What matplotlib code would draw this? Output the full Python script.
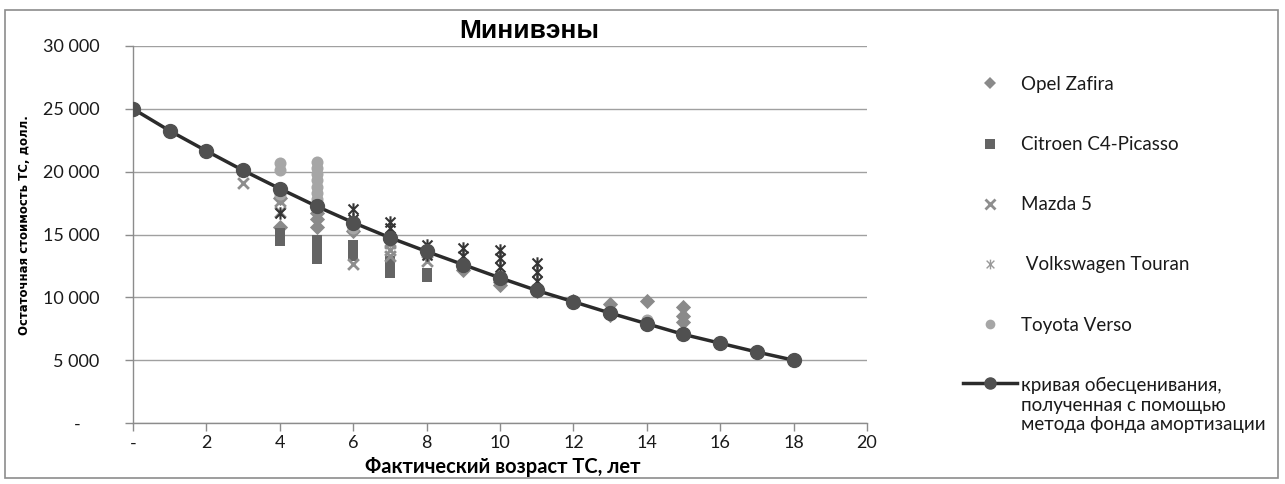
import matplotlib
matplotlib.use("Agg")
import matplotlib.pyplot as plt
from matplotlib.path import Path
from matplotlib.lines import Line2D
from matplotlib.patches import Rectangle

# ---------------- data ----------------
title = "Минивэны"
xlabel = "Фактический возраст ТС, лет"
ylabel = "Остаточная стоимость ТС, долл."

curve_x = [0, 1, 2, 3, 4, 5, 6, 7, 8, 9, 10, 11, 12, 13, 14, 15, 16, 17, 18]
curve_y = [25000, 23250, 21650, 20100, 18650, 17250, 15950, 14750, 13650, 12600,
           11550, 10550, 9650, 8750, 7900, 7050, 6350, 5650, 5000]

opel_x = [4, 4, 5, 5, 5, 6, 7, 9, 10, 10, 11, 12, 13, 13, 14, 15, 15, 15]
opel_y = [17900, 15600, 16700, 16200, 15600, 15300, 14600, 12200, 11200, 11000,
          10500, 9700, 9450, 8600, 9700, 9250, 8550, 8000]

citroen_x = [4, 4, 4, 5, 5, 5, 5, 5, 6, 6, 6, 7, 7, 7, 7, 8, 8]
citroen_y = [15100, 14800, 14500, 14600, 14200, 13800, 13400, 13050, 14200, 13700,
             13300, 12900, 12500, 12200, 11900, 11900, 11650]

mazda_x = [3, 4, 4, 6, 7, 7, 7, 8]
mazda_y = [19100, 17700, 16800, 12650, 14300, 13800, 13300, 12900]

vw_x = [4, 6, 6, 7, 7, 8, 8, 9, 9, 10, 10, 10, 11, 11, 11]
vw_y = [16700, 17000, 16200, 16000, 15500, 14200, 13400, 13900, 13300, 13800,
        13100, 12400, 12700, 12000, 11300]

toyota_x = [4, 4, 4, 4, 5, 5, 5, 5, 5, 5, 5, 5, 6, 14]
toyota_y = [20700, 20100, 18600, 18200, 20800, 20300, 19800, 19300, 18800, 18300,
            17800, 17400, 15500, 8200]

series_labels = ["Opel Zafira", "Citroen C4-Picasso", "Mazda 5", " Volkswagen Touran",
                 "Toyota Verso",
                 "кривая обесценивания,\nполученная с помощью\nметода фонда амортизации"]

y_ticks = [0, 5000, 10000, 15000, 20000, 25000, 30000]
y_ticklabels = ["-    ", "5 000", "10 000", "15 000", "20 000", "25 000", "30 000"]
x_ticks = [0, 2, 4, 6, 8, 10, 12, 14, 16, 18, 20]
x_ticklabels = ["-", "2", "4", "6", "8", "10", "12", "14", "16", "18", "20"]

# ---------------- style ----------------
plt.rcParams['font.family'] = ['Lato', 'DejaVu Sans']

star = Path([(0, -1), (0, 1), (-0.8, -0.8), (0.8, 0.8), (-0.8, 0.8), (0.8, -0.8)],
            [Path.MOVETO, Path.LINETO, Path.MOVETO, Path.LINETO, Path.MOVETO, Path.LINETO])

fig = plt.figure(figsize=(12.85, 4.84), dpi=100)
ax = fig.add_axes([133 / 1285, 1 - 423 / 484, (867 - 133) / 1285, (423 - 46) / 484])

# border of chart area
fig.patches.append(Rectangle((5 / 1285, 1 - 478 / 484), 1273 / 1285, 468 / 484,
                             transform=fig.transFigure, fill=False,
                             edgecolor='#8c8c8c', linewidth=1.2))

c_opel = '#8a8a8a'
c_cit = '#646464'
c_mazda = '#8e8e8e'
c_vw = '#353535'
c_toy = '#a6a6a6'
c_curve = '#505050'

ax.scatter(opel_x, opel_y, marker='D', s=60, color=c_opel, linewidths=0, zorder=3)
ax.scatter(citroen_x, citroen_y, marker='s', s=55, color=c_cit, linewidths=0, zorder=3)
ax.scatter(mazda_x, mazda_y, marker='x', s=60, color=c_mazda, linewidths=2, zorder=3)
ax.scatter(vw_x, vw_y, marker=star, s=80, color=c_vw, linewidths=1.5, zorder=3)
ax.scatter(toyota_x, toyota_y, marker='o', s=75, color=c_toy, linewidths=0, zorder=3)
ax.plot(curve_x, curve_y, color='#2b2b2b', linewidth=2.5, marker='o', markersize=10,
        markerfacecolor=c_curve, markeredgecolor=c_curve, zorder=4)

ax.set_xlim(0, 20)
ax.set_ylim(0, 30000)
ax.set_yticks(y_ticks)
ax.set_yticklabels(y_ticklabels)
ax.set_xticks(x_ticks)
ax.set_xticklabels(x_ticklabels)
ax.tick_params(axis='both', labelsize=13, colors='#8c8c8c', labelcolor='#1a1a1a',
               length=6, width=1, direction='out')
ax.tick_params(axis='x', pad=3)
ax.tick_params(axis='y', pad=18)
ax.yaxis.grid(True, color='#a0a0a0', linewidth=1)
ax.set_axisbelow(True)
for s in ['top', 'right']:
    ax.spines[s].set_visible(False)
for s in ['left', 'bottom']:
    ax.spines[s].set_color('#8c8c8c')
    ax.spines[s].set_linewidth(1)

fig.text(529 / 1285, 1 - 31 / 484, title, ha='center', va='center', fontsize=19,
         fontweight='bold', family=['Liberation Sans', 'DejaVu Sans'])
fig.text(503 / 1285, 1 - 467 / 484, xlabel, ha='center', va='center', fontsize=14.5,
         fontweight='bold')
fig.text(25 / 1285, 1 - 225 / 484, ylabel, ha='center', va='center', fontsize=9.4,
         fontweight='bold', rotation=90, fontstretch='condensed',
         family=['DejaVu Sans'])

handles = [
    Line2D([], [], linestyle='none', marker='D', markersize=6, color=c_opel, markeredgewidth=0),
    Line2D([], [], linestyle='none', marker='s', markersize=7, color=c_cit, markeredgewidth=0),
    Line2D([], [], linestyle='none', marker='x', markersize=7, color=c_mazda, markeredgewidth=2),
    Line2D([], [], linestyle='none', marker=star, markersize=7, color='#9a9a9a', markeredgewidth=1),
    Line2D([], [], linestyle='none', marker='o', markersize=7, color=c_toy, markeredgewidth=0),
    Line2D([], [], color='#2b2b2b', linewidth=2.5, marker='o', markersize=8,
           markerfacecolor=c_curve, markeredgecolor=c_curve),
]
leg = fig.legend(handles, series_labels, loc='upper left',
                 bbox_to_anchor=(963 / 1285, 1 - 76 / 484), frameon=False,
                 fontsize=13.5, handlelength=2.9, handletextpad=0.2,
                 labelspacing=2.3, borderpad=0, borderaxespad=0)
for t in leg.get_texts():
    t.set_color('#1a1a1a')
# align the curve's legend symbol with the first line of its label
last = leg.legend_handles[-1]
yd = last.get_ydata()
last.set_ydata([v + 13.5 * 1.2 for v in yd])

fig.savefig("out.png", dpi=100)
